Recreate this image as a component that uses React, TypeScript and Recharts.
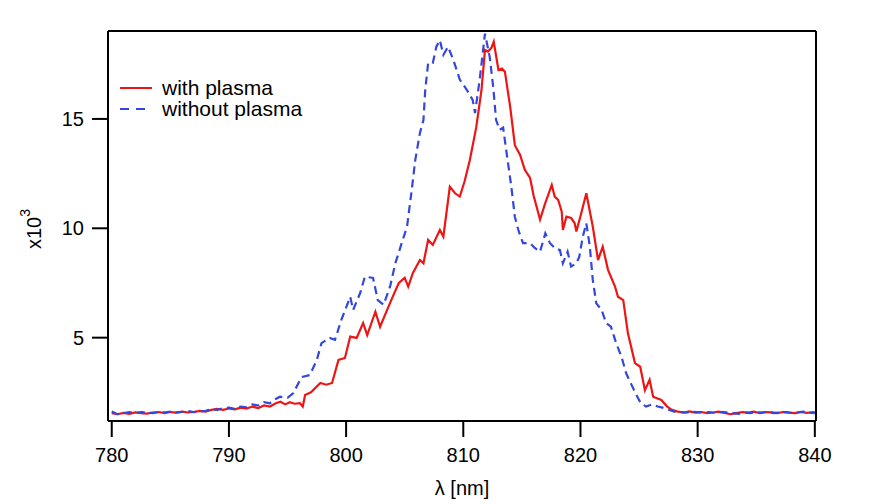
import React from "react";
import { LineChart, Line, XAxis, YAxis } from "recharts";

// wavelength (nm) and intensity (x10^3)
const lambdaWith = [
  780, 780.5, 781, 781.5, 782, 782.5, 783, 783.5, 784, 784.5, 785, 785.5, 786, 786.5, 787, 787.5,
  788, 788.5, 789, 789.5, 790, 790.5, 791, 791.5, 792, 792.5, 793, 793.5, 794, 794.4, 794.8, 795.2,
  795.6, 796.05, 796.3, 796.5, 797, 797.8, 798.3, 798.8, 799.35, 799.9, 800.35, 800.9, 801.45, 801.8,
  802.5, 802.9, 803.5, 804, 804.5, 805, 805.3, 805.7, 806.3, 806.6, 807, 807.4, 808, 808.3, 808.85,
  809.3, 809.7, 810.1, 810.55, 811.1, 811.55, 811.85, 812.1, 812.4, 812.6, 813, 813.3, 813.55, 814,
  814.4, 814.85, 815.25, 815.7, 816, 816.55, 817, 817.55, 817.8, 818.1, 818.4, 818.5, 818.8, 819.2,
  819.5, 819.65, 820.1, 820.5, 821.05, 821.5, 821.9, 822.35, 822.95, 823.2, 823.65, 824.05, 824.65,
  825.1, 825.5, 825.9, 826.2, 826.9, 827.4, 827.8, 828.3, 828.8, 829.3, 829.8, 830.3, 830.8, 831.3,
  831.8, 832.3, 832.8, 833.3, 833.8, 834.3, 834.8, 835.3, 835.8, 836.3, 836.8, 837.3, 837.8, 838.3,
  838.8, 839.3, 840,
];
const withPlasma = [
  1.55, 1.5, 1.56, 1.52, 1.58, 1.55, 1.53, 1.58, 1.6, 1.55, 1.6, 1.57, 1.62, 1.58, 1.6, 1.65,
  1.62, 1.7, 1.74, 1.7, 1.76, 1.72, 1.8, 1.76, 1.85, 1.78, 1.9, 1.85, 2.0, 2.07, 1.95, 2.05,
  1.98, 2.01, 1.85, 2.38, 2.5, 2.93, 2.85, 2.93, 3.98, 4.07, 5.05, 4.99, 5.67, 5.12,
  6.19, 5.5, 6.27, 6.9, 7.5, 7.73, 7.33, 7.96, 8.55, 8.4, 9.47, 9.24, 9.92, 9.62, 11.9,
  11.6, 11.45, 12.13, 13.1, 14.6, 16.3, 18.15, 18.08, 18.25, 18.53, 17.24, 17.3, 17.16, 15.56,
  13.8, 13.35, 12.67, 12.3, 11.5, 10.4, 11.16, 11.98, 11.45, 11.3, 10.76, 9.92, 10.53, 10.47,
  10.24, 9.85, 10.76, 11.6, 10.08, 8.55, 9.16, 8.1, 7.33, 6.87, 6.72, 5.2, 3.84,
  3.67, 2.6, 3.07, 2.3, 2.15, 1.85, 1.7, 1.62, 1.58, 1.63, 1.57, 1.6, 1.55, 1.58,
  1.62, 1.56, 1.5, 1.55, 1.6, 1.57, 1.62, 1.55, 1.6, 1.58, 1.55, 1.6, 1.57, 1.55,
  1.6, 1.56, 1.6,
];

const lambdaWithout = [
  780, 780.5, 781, 781.5, 782, 782.5, 783, 783.5, 784, 784.5, 785, 785.5, 786, 786.5, 787, 787.5,
  788, 788.5, 789, 789.5, 790, 790.5, 791, 791.5, 792, 792.5, 793, 793.5, 794, 794.35, 795, 795.5,
  796.2, 796.9, 797.5, 797.9, 798.6, 799.05, 799.6, 800.35, 800.6, 801.2, 801.6, 802.3, 802.7, 803.2,
  803.75, 804.2, 804.75, 805.2, 805.6, 805.9, 806.3, 806.6, 806.75, 807, 807.4, 807.7, 808, 808.3,
  808.7, 809.15, 809.7, 810.3, 810.8, 811, 811.4, 811.85, 812.25, 812.55, 812.8, 813.1, 813.4, 813.7,
  814.1, 814.4, 814.7, 815.1, 815.7, 816.1, 816.55, 817, 817.4, 817.8, 818.25, 818.5, 818.9, 819.2,
  819.65, 819.9, 820.2, 820.5, 820.8, 821.05, 821.35, 821.8, 822.2, 822.6, 823.05, 823.5, 823.9,
  824.3, 824.7, 825.15, 825.6, 826.1, 826.6, 827, 827.6, 828, 828.5, 829, 829.5, 830, 830.5, 831,
  831.5, 832, 832.5, 833, 833.5, 834, 834.5, 835, 835.5, 836, 836.5, 837, 837.5, 838, 838.5, 839,
  839.5, 840,
];
const withoutPlasma = [
  1.62, 1.5, 1.55, 1.6, 1.55, 1.6, 1.57, 1.55, 1.6, 1.58, 1.62, 1.58, 1.6, 1.65, 1.6, 1.62,
  1.66, 1.72, 1.7, 1.78, 1.8, 1.74, 1.85, 1.82, 1.95, 1.9, 2.05, 2.0, 2.2, 2.3, 2.25, 2.47,
  3.2, 3.29, 3.98, 4.75, 4.99, 4.9, 5.82, 6.87, 6.27, 7.04, 7.79, 7.73, 6.72, 6.5,
  7.33, 8.4, 9.33, 10.08, 11.75, 13.12, 14.36, 14.95, 16.3, 17.56, 17.56, 18.3, 18.6, 17.93,
  18.3, 17.7, 16.8, 16.33, 15.87, 15.27, 16.8, 18.9, 17.85, 16.48, 14.95, 14.5, 14.6, 13.43,
  11.9, 10.53, 9.92, 9.32, 9.32, 9.1, 8.93, 9.77, 9.32, 9.1, 9.0, 8.4, 8.93, 8.25,
  8.4, 8.7, 9.62, 10.23, 9.16, 7.64, 6.57, 6.27, 5.66, 5.5, 4.74, 4.13, 3.37,
  2.91, 2.46, 2.0, 1.85, 1.95, 1.85, 1.8, 1.69, 1.62, 1.6, 1.57, 1.62, 1.6, 1.57, 1.6,
  1.55, 1.6, 1.58, 1.55, 1.52, 1.58, 1.55, 1.6, 1.57, 1.6, 1.55, 1.58, 1.6, 1.56, 1.58, 1.62,
  1.58, 1.55,
];

const xTicks = [780, 790, 800, 810, 820, 830, 840];
const yTicks = [5, 10, 15];

const withData = lambdaWith.map((x, i) => ({ x, y: withPlasma[i] }));
const withoutData = lambdaWithout.map((x, i) => ({ x, y: withoutPlasma[i] }));

const RED = "#ee1515";
const BLUE = "#3347dd";
const FONT = "'Liberation Sans', Arial, Helvetica, sans-serif";

const xDomain = [779.68, 840.1];
const yDomain = [1.19, 19.02];

const axisLine = { stroke: "#000", strokeWidth: 2 };
const tickStyle = { fill: "#000", fontSize: 20, fontFamily: FONT };

const YLabel = () => (
  <text
    x={34}
    y={229}
    transform="rotate(-90, 34, 229)"
    textAnchor="middle"
    dominantBaseline="central"
    fontFamily={FONT}
    fontSize={20}
    fill="#000"
  >
    x10
    <tspan fontSize={14} dy={-9}>
      3
    </tspan>
  </text>
);

const LegendBox = () => (
  <div
    style={{
      position: "absolute",
      left: 120,
      top: 77,
      fontFamily: FONT,
      fontSize: 21,
      lineHeight: "21px",
      color: "#000",
    }}
  >
    <div style={{ display: "flex", alignItems: "center", height: 21 }}>
      <svg width={34} height={6} style={{ marginRight: 8 }}>
        <line x1={0} y1={3} x2={32} y2={3} stroke={RED} strokeWidth={2} />
      </svg>
      <span>with plasma</span>
    </div>
    <div style={{ display: "flex", alignItems: "center", height: 21 }}>
      <svg width={34} height={6} style={{ marginRight: 8 }}>
        <line x1={0} y1={3} x2={32} y2={3} stroke={BLUE} strokeWidth={2} strokeDasharray="9 7" />
      </svg>
      <span>without plasma</span>
    </div>
  </div>
);

export default function App() {
  return (
    <div style={{ position: "relative", width: 869, height: 504, background: "#fff" }}>
      <style>{"body{margin:0}"}</style>
      <LineChart width={869} height={504} margin={{ top: 0, right: 0, bottom: 0, left: 0 }}>
        <XAxis
          xAxisId="bottom"
          type="number"
          dataKey="x"
          domain={xDomain}
          ticks={xTicks}
          allowDataOverflow
          orientation="bottom"
          height={83}
          tickSize={16}
          tickMargin={11}
          axisLine={axisLine}
          tickLine={axisLine}
          tick={tickStyle}
          label={{
            value: "λ [nm]",
            position: "insideBottom",
            offset: 9,
            fill: "#000",
            fontSize: 20,
            fontFamily: FONT,
          }}
        />
        <XAxis
          xAxisId="top"
          type="number"
          dataKey="x"
          domain={xDomain}
          ticks={xTicks}
          allowDataOverflow
          orientation="top"
          height={31}
          tickSize={16}
          axisLine={axisLine}
          tickLine={axisLine}
          tick={false}
        />
        <YAxis
          yAxisId="left"
          type="number"
          domain={yDomain}
          ticks={yTicks}
          allowDataOverflow
          width={108}
          tickSize={16}
          tickMargin={8}
          axisLine={axisLine}
          tickLine={axisLine}
          tick={tickStyle}
          label={{ content: () => <YLabel /> }}
        />
        <YAxis
          yAxisId="right"
          orientation="right"
          type="number"
          domain={yDomain}
          ticks={yTicks}
          allowDataOverflow
          width={53}
          tickSize={16}
          axisLine={axisLine}
          tickLine={axisLine}
          tick={false}
        />
        <Line
          xAxisId="bottom"
          yAxisId="left"
          data={withData}
          dataKey="y"
          type="linear"
          stroke={RED}
          strokeWidth={2.2}
          dot={false}
          isAnimationActive={false}
        />
        <Line
          xAxisId="bottom"
          yAxisId="left"
          data={withoutData}
          dataKey="y"
          type="linear"
          stroke={BLUE}
          strokeWidth={2.2}
          strokeDasharray="8 5"
          dot={false}
          isAnimationActive={false}
        />
      </LineChart>
      <LegendBox />
    </div>
  );
}
